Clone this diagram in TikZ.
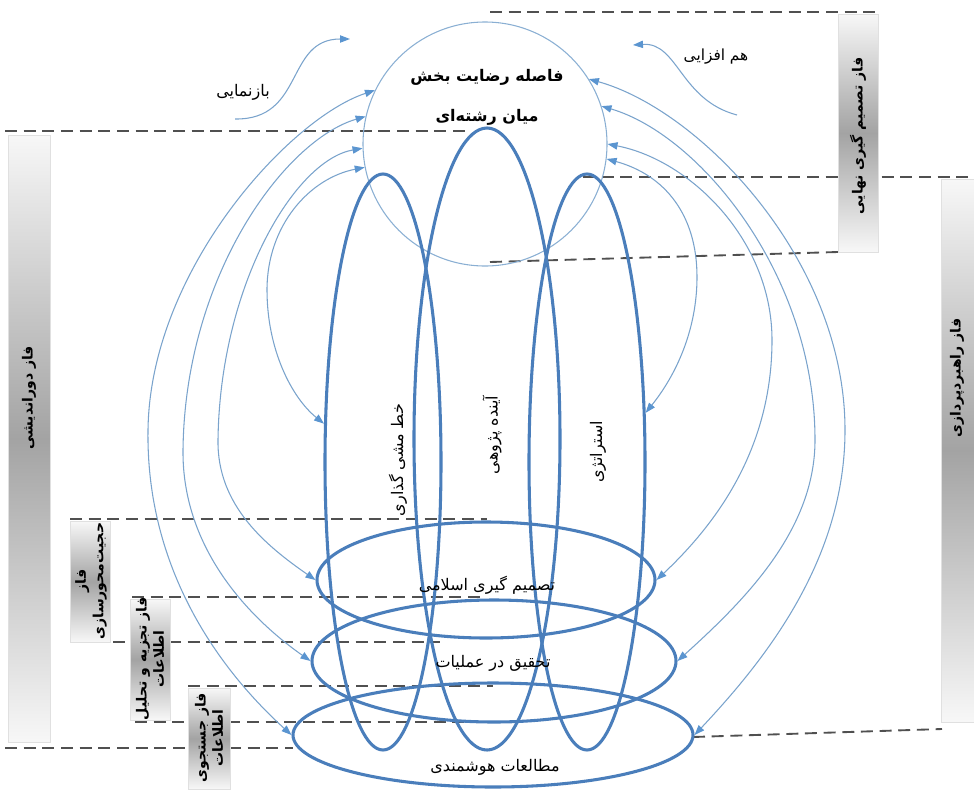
\documentclass[tikz,border=0pt]{standalone}
\usepackage{fontspec}
\usetikzlibrary{arrows.meta,shapes.geometric}
\newfontfamily\fa[Script=Arabic]{DejaVu Sans}
\TeXXeTstate=1
\definecolor{thickblue}{HTML}{4A7EBB}
\definecolor{thinblue}{HTML}{7AA3CC}
\definecolor{tipblue}{HTML}{5B95D0}
\definecolor{dashgray}{HTML}{505050}
\definecolor{circblue}{HTML}{8AAFD3}
\begin{document}
\begin{tikzpicture}[x=0.75pt,y=-0.75pt,
 thk/.style={draw=thickblue,line width=2.3pt},
 vell/.style={ellipse,thk,inner sep=0pt},
 hell/.style={ellipse,thk,inner sep=0pt},
 lnk/.style={draw=thinblue,line width=0.8pt,{Triangle[length=7.5pt,width=5.5pt,color=tipblue]}-{Triangle[length=7.5pt,width=5.5pt,color=tipblue]}},
 one/.style={draw=thinblue,line width=0.8pt,-{Triangle[length=7.5pt,width=5.5pt,color=tipblue]}},
 dsh/.style={draw=dashgray,line width=1.4pt,dash pattern=on 9pt off 5pt},
 bar/.style={draw=black!12,line width=0.4pt,top color=black!3,bottom color=black!3,middle color=black!36},
 lbl/.style={font=\fa\fontsize{12}{14}\selectfont,inner sep=0pt},
 vlbl/.style={font=\fa\fontsize{12}{14}\selectfont,inner sep=0pt,rotate=90},
 barlbl/.style={font=\fa\bfseries\fontsize{10.5}{13}\selectfont,rotate=90,align=center,inner sep=0pt},
 ctext/.style={font=\fa\bfseries\fontsize{12}{15}\selectfont,inner sep=0pt},
]
\useasboundingbox (0,0) rectangle (974,789);
% dashed guide lines
\draw[dsh] (490,12) -- (878,12);
\draw[dsh] (5,131) -- (470,131);
\draw[dsh] (583,177) -- (974,177);
\draw[dsh] (490,262) -- (838,252);
\draw[dsh] (693,737) -- (942,729);
\draw[dsh] (70,519) -- (487,519);
\draw[dsh] (132,597) -- (483,597);
\draw[dsh] (113,642) -- (440,642);
\draw[dsh] (188,686) -- (493,686);
\draw[dsh] (135,722) -- (493,722);
\draw[dsh] (5,748) -- (293,748);
% phase bars
\path[bar] (8,135) rectangle (50,742);
\path[bar] (838,14) rectangle (878,252);
\path[bar] (941,179) rectangle (974,722);
\path[bar] (70,521) rectangle (110,642);
\path[bar] (130,599) rectangle (170,720);
\path[bar] (188,688) rectangle (230,789);
\node[barlbl] (pL) at (29,398) {\beginR فاز دوراندیشی\endR};
\node[barlbl] (pT) at (858,136) {\beginR فاز تصمیم گیری نهایی\endR};
\node[barlbl] (pR) at (957,378) {\beginR فاز راهبردپردازی\endR};
\node[barlbl] (p1) at (91,581) {\beginR فاز\endR\\\beginR حجیت‌محورسازی\endR};
\node[barlbl] (p2) at (150,659) {\beginR فاز تجزیه و تحلیل\endR\\\beginR اطلاعات\endR};
\node[barlbl] (p3) at (209,738) {\beginR فاز جستجوی\endR\\\beginR اطلاعات\endR};
% main shapes
\node[circle,draw=circblue,line width=0.8pt,inner sep=0pt,minimum size=183pt] (C) at (485,144) {};
\node[vell,minimum width=87pt,minimum height=432pt] (V1) at (383,462) {};
\node[vell,minimum width=109.5pt,minimum height=466.5pt] (V2) at (487,439) {};
\node[vell,minimum width=87pt,minimum height=432pt] (V3) at (587,462) {};
\node[hell,minimum width=253.5pt,minimum height=87pt] (E1) at (486,580) {};
\node[hell,minimum width=273pt,minimum height=91.5pt] (E2) at (494,661) {};
\node[hell,minimum width=300pt,minimum height=78pt] (E3) at (493,735) {};
% labels
\node[ctext] (c1) at (487,77) {\beginR فاصله رضایت بخش\endR};
\node[ctext] (c2) at (487,117) {\beginR میان رشته‌ای\endR};
\node[vlbl] (v1) at (398,460) {\beginR خط مشی گذاری\endR};
\node[vlbl] (v2) at (492,435) {\beginR آینده پژوهی\endR};
\node[vlbl] (v3) at (598,452) {\beginR استراتژی\endR};
\node[lbl] (e1) at (487,585) {\beginR تصمیم گیری اسلامی\endR};
\node[lbl] (e2) at (493,663) {\beginR تحقیق در عملیات\endR};
\node[lbl] (e3) at (495,767) {\beginR مطالعات هوشمندی\endR};
\node[lbl] (tb) at (243,92) {\beginR بازنمایی\endR};
\node[lbl,font=\fa\fontsize{11.5}{14}\selectfont] (th) at (716,57) {\beginR هم افزایی\endR};
% links
\draw[lnk] (C.154) .. controls (290,118) and (150,270) .. (148,430) .. controls (146,570) and (220,670) .. (E3.west);
\draw[lnk] (C.167) .. controls (285,140) and (185,275) .. (183,450) .. controls (182,545) and (245,615) .. (E2.west);
\draw[lnk] (C.182) .. controls (295,160) and (220,285) .. (218,440) .. controls (217,505) and (265,545) .. (E1.west);
\draw[lnk] (C.191) .. controls (310,178) and (267,225) .. (267,290) .. controls (267,350) and (292,398) .. (V1.147);
\draw[lnk] (C.32) .. controls (700,110) and (845,260) .. (845,430) .. controls (845,560) and (765,660) .. (E3.east);
\draw[lnk] (C.18) .. controls (700,135) and (815,275) .. (815,440) .. controls (815,530) and (745,600) .. (E2.east);
\draw[lnk] (C.0) .. controls (690,160) and (772,240) .. (772,340) .. controls (772,450) and (715,525) .. (E1.east);
\draw[lnk] (C.353) .. controls (665,175) and (697,215) .. (697,277) .. controls (697,330) and (676,375) .. (V3.40);
% side arrows
\coordinate (b0) at (235,119);
\coordinate (b1) at (350,39);
\draw[one] (b0) .. controls (305,120) and (285,39) .. (b1);
\coordinate (h0) at (737,115);
\coordinate (h1) at (633,45);
\draw[one] (h0) .. controls (680,100) and (678,42) .. (h1);
\end{tikzpicture}
\end{document}
